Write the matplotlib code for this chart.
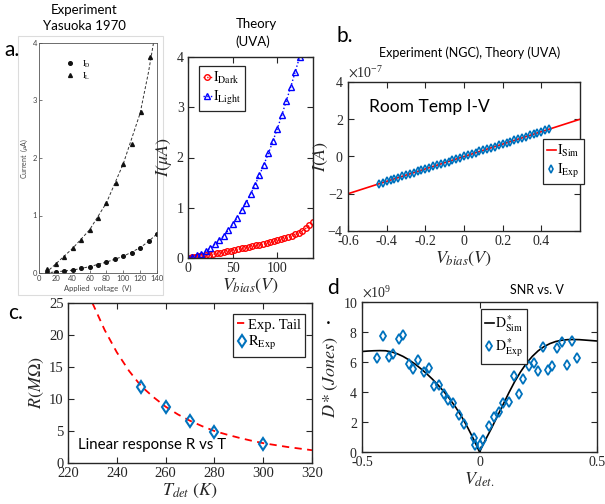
import matplotlib

matplotlib.use("Agg")
import matplotlib.pyplot as plt
from matplotlib.patches import Rectangle
from matplotlib.ticker import ScalarFormatter

W, H = 605, 504

# (a) scanned experiment: Yasuoka 1970, current in uA vs applied voltage
scan_dark_v = [10, 20, 30, 40, 50, 60, 70, 80, 90, 100, 110, 120, 130, 140]
scan_dark_i = [0.0, 0.02, 0.03, 0.05, 0.08, 0.11, 0.14, 0.19, 0.24, 0.29, 0.35, 0.44, 0.56, 0.68]
scan_light_v = [10, 20, 30, 40, 50, 60, 70, 80, 91, 100, 110, 121, 132]
scan_light_i = [0.07, 0.16, 0.28, 0.43, 0.58, 0.75, 0.95, 1.22, 1.57, 1.9, 2.25, 2.8, 3.75]
scan_fit_dark_v = [8, 20, 40, 60, 80, 100, 120, 130, 140]
scan_fit_dark_i = [0.0, 0.02, 0.05, 0.11, 0.19, 0.29, 0.44, 0.55, 0.68]
scan_fit_light_v = [8, 20, 40, 60, 80, 100, 120, 130, 137]
scan_fit_light_i = [0.0, 0.16, 0.43, 0.75, 1.22, 1.9, 2.78, 3.5, 4.1]

# (a) theory (UVA)
dark_v = list(range(0, 141, 4))
dark_i = [0.0, 0.01, 0.02, 0.03, 0.04, 0.05, 0.065, 0.075, 0.09, 0.1, 0.115, 0.13,
          0.145, 0.16, 0.175, 0.19, 0.205, 0.22, 0.235, 0.25, 0.265, 0.28, 0.295,
          0.31, 0.33, 0.35, 0.37, 0.39, 0.41, 0.44, 0.47, 0.5, 0.54, 0.59, 0.65, 0.72]
light_v = list(range(0, 126, 5))
light_i = [0.0, 0.02, 0.05, 0.08, 0.13, 0.2, 0.27, 0.35, 0.44, 0.55, 0.67, 0.8, 0.95,
           1.1, 1.27, 1.45, 1.65, 1.86, 2.08, 2.32, 2.57, 2.84, 3.12, 3.4, 3.7, 4.0]

# (b) room temperature I-V
sim_v = [-0.6, 0.6]
sim_i = [-2.0e-7, 2.0e-7]
exp_v = [round(-0.44 + 0.02 * k, 2) for k in range(45)]
exp_i_e7 = [-1.47, -1.40, -1.33, -1.27, -1.20, -1.13, -1.07, -1.00, -0.93, -0.87,
            -0.80, -0.73, -0.67, -0.60, -0.53, -0.47, -0.40, -0.33, -0.27, -0.20,
            -0.13, -0.07, 0.00, 0.07, 0.13, 0.20, 0.27, 0.33, 0.40, 0.47, 0.53,
            0.60, 0.67, 0.73, 0.80, 0.87, 0.93, 1.00, 1.07, 1.13, 1.20, 1.27,
            1.33, 1.40, 1.47]
exp_i = [v * 1e-7 for v in exp_i_e7]

# (c) resistance vs detector temperature
tail_t = [230, 235, 240, 245, 250, 255, 260, 265, 270, 275, 280, 285, 290, 295,
          300, 305, 310, 315, 320]
tail_r = [25.0, 20.8, 17.3, 14.4, 12.0, 10.3, 8.8, 7.6, 6.6, 5.75, 5.0, 4.45, 3.95,
          3.5, 3.1, 2.8, 2.5, 2.25, 2.0]
r_exp_t = [250, 260, 270, 280, 300]
r_exp = [11.9, 8.7, 6.5, 4.9, 3.0]

# (d) detectivity vs bias
dsim_v = [round(-0.5 + 0.025 * k, 3) for k in range(41)]
dsim_e9 = [6.70, 6.73, 6.75, 6.76, 6.75, 6.68, 6.55, 6.37, 6.14, 5.87, 5.56, 5.22,
           4.85, 4.44, 4.00, 3.50, 2.95, 2.33, 1.62, 0.85, 0.00, 0.80, 1.55, 2.35,
           3.15, 3.95, 4.70, 5.35, 5.92, 6.38, 6.75, 7.03, 7.23, 7.37, 7.45, 7.49,
           7.50, 7.49, 7.46, 7.43, 7.40]
dexp_v = [-0.435, -0.41, -0.387, -0.367, -0.344, -0.324, -0.302, -0.282, -0.26,
          -0.236, -0.213, -0.195, -0.174, -0.152, -0.132, -0.111, -0.088, -0.067,
          -0.024, -0.021, 0.0, 0.017, 0.04, 0.063, 0.082, 0.102, 0.125, 0.145,
          0.166, 0.187, 0.209, 0.23, 0.25, 0.271, 0.29, 0.31, 0.331, 0.353, 0.373,
          0.394, 0.413]
dexp_e9 = [6.25, 7.76, 6.34, 6.54, 7.56, 7.83, 5.85, 5.54, 6.16, 5.32, 5.63, 4.41,
           4.5, 3.86, 3.48, 3.26, 2.44, 1.86, 0.93, 0.44, 0.44, 0.8, 1.71, 2.33,
           2.64, 3.24, 3.33, 5.08, 3.86, 4.88, 5.74, 5.92, 5.39, 7.03, 5.48, 5.76,
           6.92, 7.36, 5.79, 7.43, 6.3]
dsim = [v * 1e9 for v in dsim_e9]
dexp = [v * 1e9 for v in dexp_e9]

RED = "#ff0000"
BLUE = "#0000ff"
MBLUE = "#0072bd"
INK = "#262626"

plt.rcParams["font.family"] = ["Liberation Serif", "DejaVu Serif"]
plt.rcParams["mathtext.fontset"] = "stix"
plt.rcParams["axes.unicode_minus"] = False
SANS = ["Lato", "DejaVu Sans"]

fig = plt.figure(figsize=(W / 100, H / 100), dpi=100)


def px_axes(x0, y0, x1, y1):
    return fig.add_axes([x0 / W, 1 - y1 / H, (x1 - x0) / W, (y1 - y0) / H])


def fpos(x, y):
    return x / W, 1 - y / H


def matlab_style(ax, size=10):
    for s in ax.spines.values():
        s.set_color(INK)
        s.set_linewidth(1.0)
    ax.tick_params(direction="in", top=True, right=True, length=4, width=0.8,
                   labelsize=size, colors=INK, pad=3)


def fixed_power(ax, power):
    fmt = ScalarFormatter(useMathText=True)
    fmt.set_powerlimits((power, power))
    ax.yaxis.set_major_formatter(fmt)
    ax.yaxis.get_offset_text().set_fontsize(10)
    ax.yaxis.get_offset_text().set_color(INK)


def boxed_legend(ax, x, y, **kw):
    leg = ax.legend(loc="upper left", bbox_to_anchor=fpos(x, y),
                    bbox_transform=fig.transFigure, borderaxespad=0,
                    fancybox=False, framealpha=1, edgecolor=INK,
                    borderpad=0.3, labelspacing=0.2, handletextpad=0.1, **kw)
    leg.get_frame().set_linewidth(0.9)
    return leg


# scanned plot with its light paper border
fig.patches.append(Rectangle(fpos(18, 295), 145 / W, 259 / H, transform=fig.transFigure,
                             facecolor="none", edgecolor="#dcdcdc", lw=0.8, zorder=-1))
ax = px_axes(39, 43, 157, 273)
ax.plot(scan_fit_light_v, scan_fit_light_i, ls=(0, (3, 2)), color="#333333", lw=0.7)
ax.plot(scan_fit_dark_v, scan_fit_dark_i, ls=(0, (3, 2)), color="#333333", lw=0.7)
ax.plot(scan_dark_v, scan_dark_i, "o", color="#111111", ms=2.6, label=r"$\mathrm{I_D}$")
ax.plot(scan_light_v, scan_light_i, "^", color="#111111", ms=2.8, label=r"$\mathrm{I_L}$")
ax.set_xlim(0, 140)
ax.set_ylim(0, 4)
ax.set_xticks(range(0, 141, 20))
ax.set_yticks(range(5))
for s in ax.spines.values():
    s.set_color("#555555")
    s.set_linewidth(0.6)
ax.tick_params(direction="in", length=2, width=0.5, labelsize=5.5, colors="#444444", pad=1.5)
for lab in ax.get_xticklabels() + ax.get_yticklabels():
    lab.set_family(SANS)
ax.set_xlabel("Applied  voltage  (V)", fontsize=5.5, family=SANS, color="#444444", labelpad=2)
ax.set_ylabel(r"Current  ($\mu$A)", fontsize=5, family=SANS, color="#444444", labelpad=2)
leg = ax.legend(loc="upper left", bbox_to_anchor=fpos(62, 55), bbox_transform=fig.transFigure,
                frameon=False, handlelength=1.2, fontsize=6, labelspacing=0.1, borderaxespad=0)

# theory panel
ax = px_axes(188, 57, 313, 258)
ax.plot(dark_v, dark_i, ":", color=RED, marker="o", mfc="none", ms=4, mew=1.0, lw=1,
        label=r"$\mathrm{I_{Dark}}$")
ax.plot(light_v, light_i, ":", color=BLUE, marker="^", mfc="none", ms=5, mew=1.0, lw=1,
        label=r"$\mathrm{I_{Light}}$")
ax.set_xlim(0, 140)
ax.set_ylim(0, 4)
ax.set_xticks([0, 50, 100])
ax.set_yticks(range(5))
matlab_style(ax)
ax.set_xlabel(r"$V_{bias}(V)$", fontsize=13, color=INK, labelpad=1)
ax.set_ylabel(r"$I(\mu A)$", fontsize=13, color=INK, labelpad=2)
boxed_legend(ax, 199, 66, fontsize=10, handlelength=0.6)

# panel b
ax = px_axes(348, 82, 580, 231)
ax.plot(sim_v, sim_i, color=RED, lw=1.2, label=r"$\mathrm{I_{Sim}}$")
ax.plot(exp_v, exp_i, "d", color=MBLUE, mfc="none", ms=4, mew=1.2, ls="none",
        label=r"$\mathrm{I_{Exp}}$")
ax.set_xlim(-0.6, 0.6)
ax.set_ylim(-4e-7, 4e-7)
ax.set_xticks([-0.6, -0.4, -0.2, 0, 0.2, 0.4])
ax.set_xticklabels(["-0.6", "-0.4", "-0.2", "0", "0.2", "0.4"])
ax.set_yticks([-4e-7, -2e-7, 0, 2e-7, 4e-7])
fixed_power(ax, -7)
matlab_style(ax)
ax.set_xlabel(r"$V_{bias}(V)$", fontsize=13, color=INK, labelpad=1)
ax.set_ylabel(r"$I(A)$", fontsize=13, color=INK, labelpad=-2)
ax.text(0.09, 0.83, "Room Temp I-V", transform=ax.transAxes, fontsize=12.5, family=SANS,
        color="black", va="center")
boxed_legend(ax, 543, 139, fontsize=10, handlelength=0.6)

# panel c
ax = px_axes(68, 303, 312, 463)
ax.plot(tail_t, tail_r, color=RED, ls=(0, (4, 3)), lw=1.3, label="Exp. Tail")
ax.plot(r_exp_t, r_exp, "d", color=MBLUE, mfc="none", ms=6, mew=1.5, ls="none",
        label=r"$\mathrm{R_{Exp}}$")
ax.set_xlim(220, 320)
ax.set_ylim(0, 25)
ax.set_xticks(range(220, 321, 20))
ax.set_yticks(range(0, 26, 5))
matlab_style(ax, 10.5)
ax.set_xlabel(r"$T_{det}\ (K)$", fontsize=13, color=INK, labelpad=1)
ax.set_ylabel(r"$R(M\Omega)$", fontsize=13, color=INK, labelpad=2)
ax.text(0.04, 0.11, "Linear response R vs T", transform=ax.transAxes, fontsize=10.8,
        family=SANS, color="black", va="center")
boxed_legend(ax, 233, 314, fontsize=10.5, handlelength=0.6)

# panel d
ax = px_axes(362, 302, 597, 452)
ax.plot(dsim_v, dsim, color="black", lw=1.2, label=r"$\mathrm{D^*_{Sim}}$")
ax.plot(dexp_v, dexp, "d", color=MBLUE, mfc="none", ms=5, mew=1.3, ls="none",
        label=r"$\mathrm{D^*_{Exp}}$")
ax.set_xlim(-0.5, 0.5)
ax.set_ylim(0, 1e10)
ax.set_xticks([-0.5, 0, 0.5])
ax.set_xticklabels(["-0.5", "0", "0.5"])
ax.set_yticks([0, 2e9, 4e9, 6e9, 8e9, 1e10])
fixed_power(ax, 9)
matlab_style(ax)
ax.set_xlabel(r"$V_{det.}$", fontsize=13, color=INK, labelpad=1)
ax.set_ylabel(r"$D*(Jones)$", fontsize=13, color=INK, labelpad=2)
boxed_legend(ax, 481, 309, fontsize=10, handlelength=0.6)

# titles and panel letters
fig.text(*fpos(84, 10), "Experiment", family=SANS, fontsize=9.5, ha="center", va="center")
fig.text(*fpos(84, 26), "Yasuoka 1970", family=SANS, fontsize=9.5, ha="center", va="center")
fig.text(*fpos(256, 24), "Theory", family=SANS, fontsize=9.5, ha="center", va="center")
fig.text(*fpos(253, 42), "(UVA)", family=SANS, fontsize=9.5, ha="center", va="center")
fig.text(*fpos(470, 53), "Experiment (NGC), Theory (UVA)", family=SANS, fontsize=9,
         ha="center", va="center")
fig.text(*fpos(537, 290), "SNR vs. V", family=SANS, fontsize=9, ha="center", va="center")
fig.text(*fpos(4, 50), "a.", family=SANS, fontsize=15, va="center")
fig.text(*fpos(336, 36), "b.", family=SANS, fontsize=15, va="center")
fig.text(*fpos(8, 313), "c.", family=SANS, fontsize=15, va="center")
fig.text(*fpos(327, 288), "d", family=SANS, fontsize=15, va="center")
fig.text(*fpos(326, 318), ".", family=SANS, fontsize=15, va="center")

fig.savefig("out.png", dpi=100)
